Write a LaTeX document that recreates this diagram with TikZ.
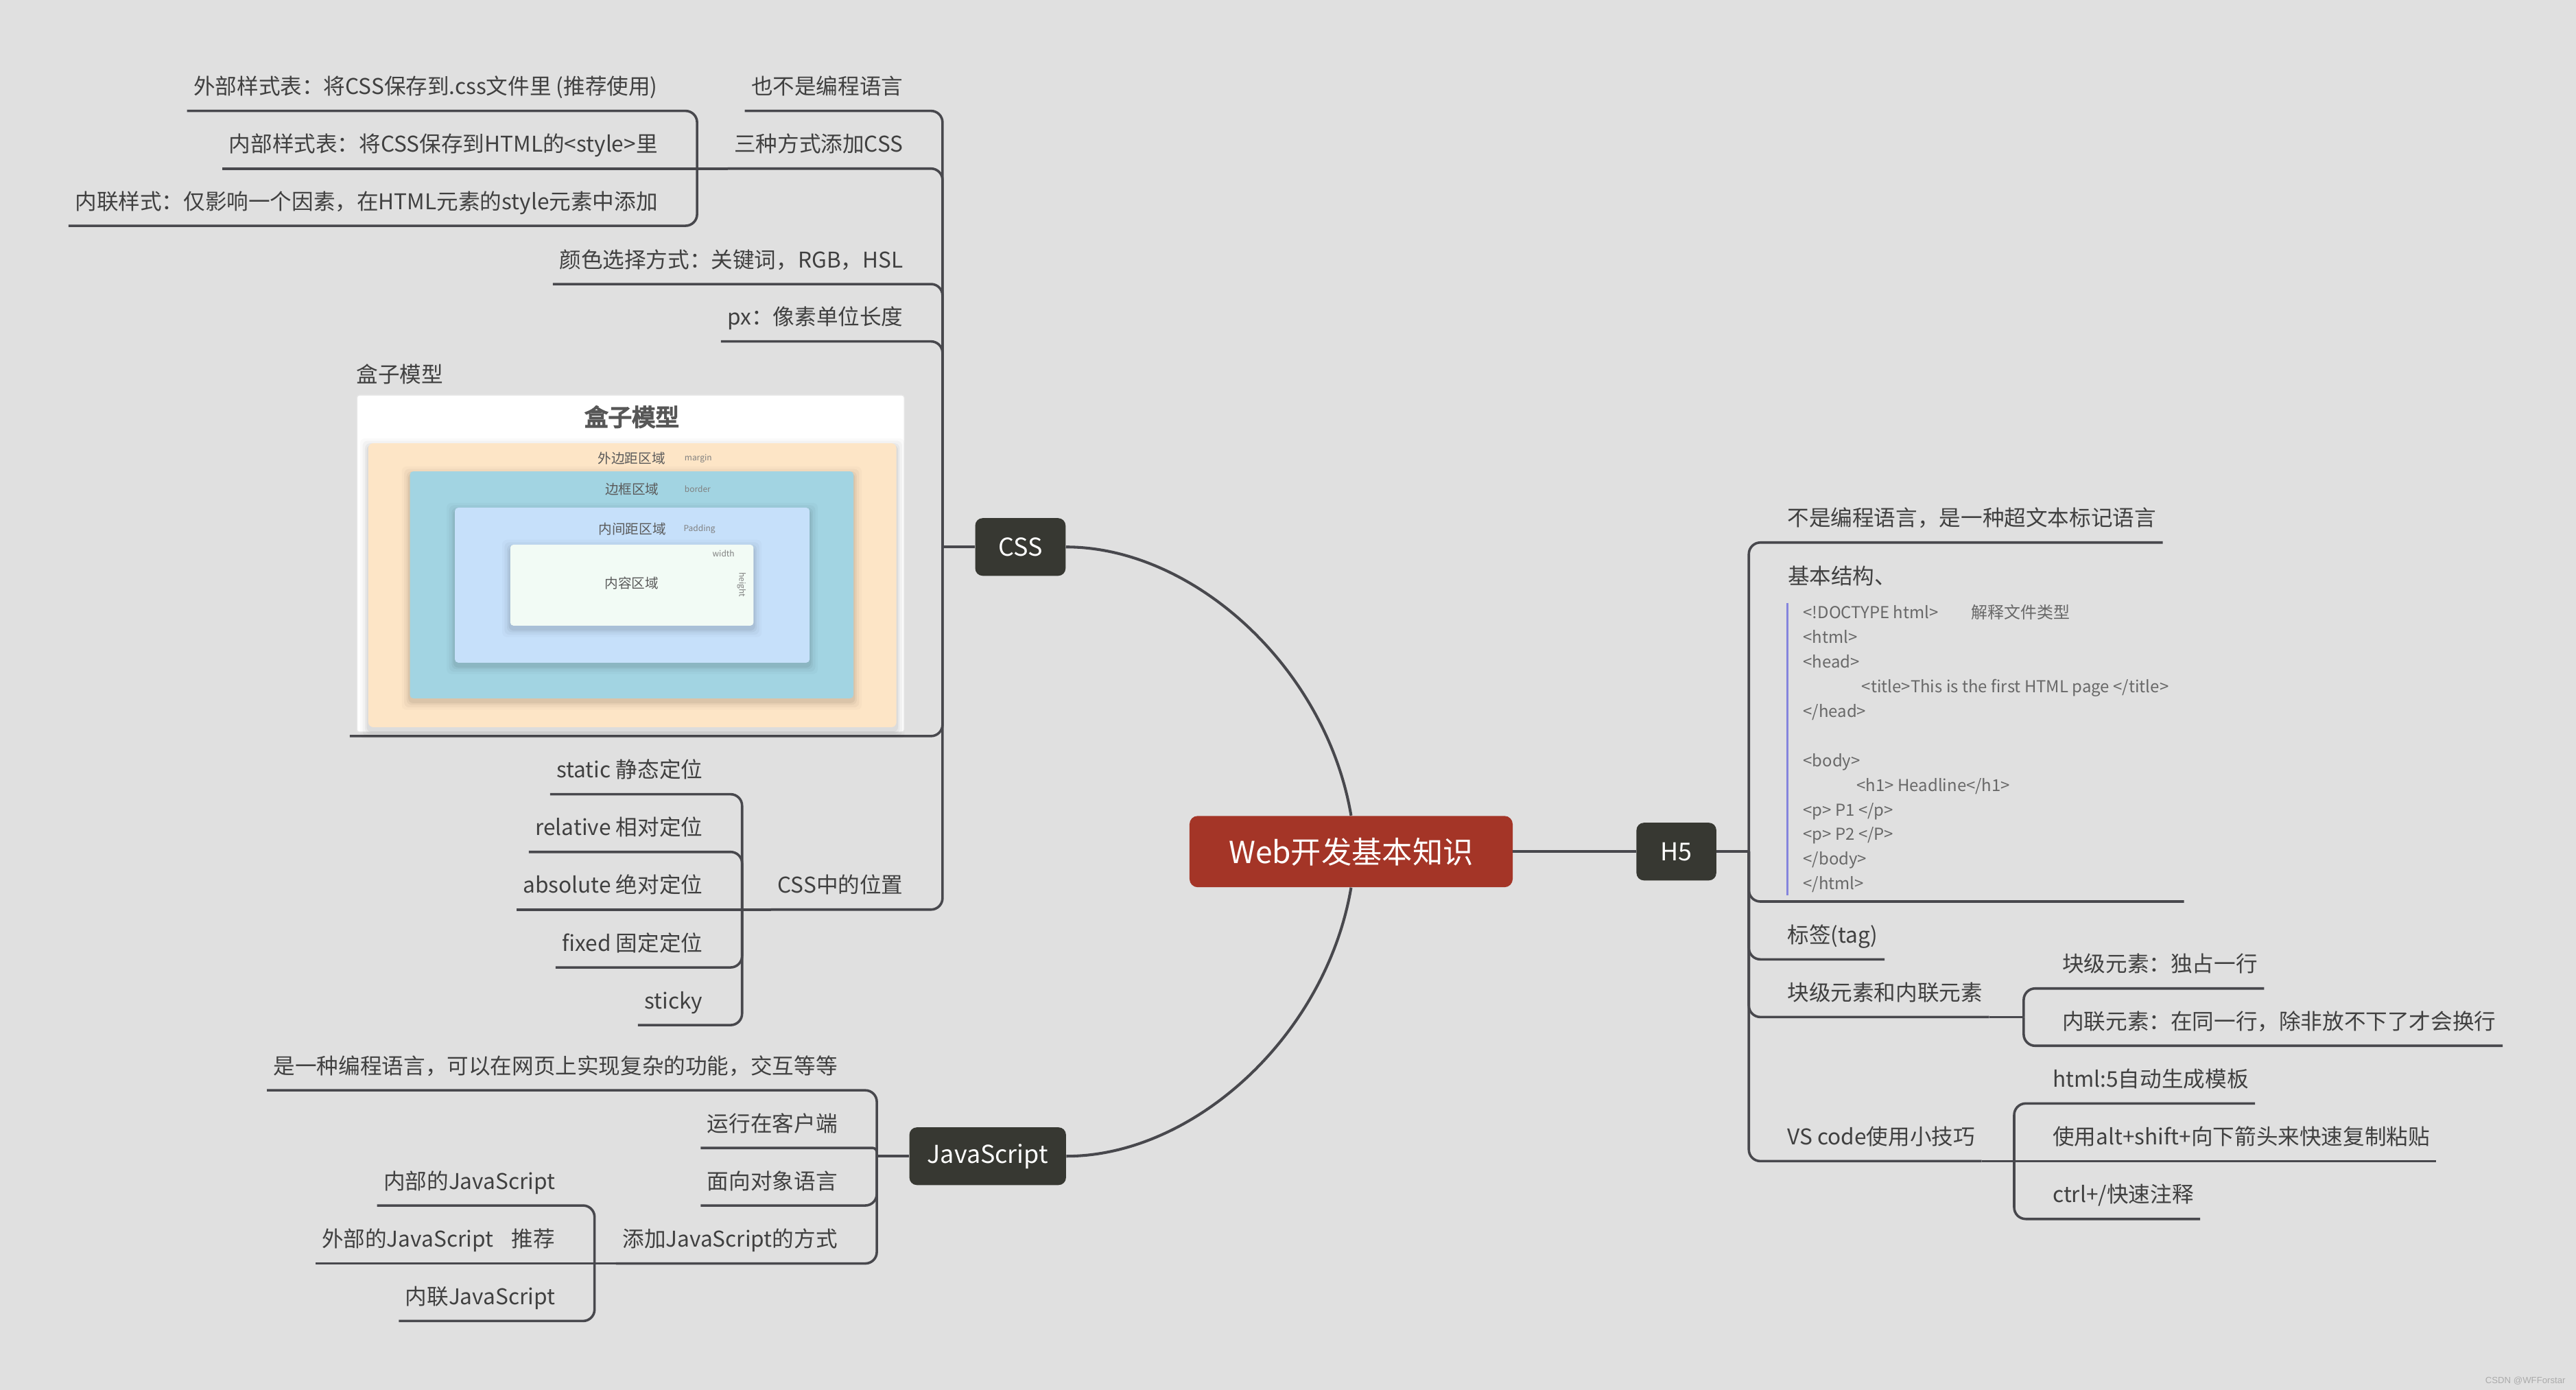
\documentclass[tikz,border=0pt]{standalone}
\usepackage{fontspec}
\setmainfont{Noto Sans CJK SC}
\newfontfamily\boldcjk{Noto Sans CJK SC}[FakeBold=5]
\newfontfamily\wmfont{Liberation Sans}
\usetikzlibrary{calc}
\definecolor{bg}{HTML}{E0E0E0}
\definecolor{ln}{HTML}{48484D}
\definecolor{tx}{HTML}{404040}
\definecolor{rootc}{HTML}{A43527}
\definecolor{mainc}{HTML}{373832}
\definecolor{codec}{HTML}{686868}
\definecolor{barc}{HTML}{8585DD}
\definecolor{peach}{HTML}{FDE5C6}
\definecolor{bordc}{HTML}{A2D4E2}
\definecolor{padc}{HTML}{C6E0FA}
\definecolor{contc}{HTML}{F2FBF5}
\definecolor{boxtx}{HTML}{5A5A5A}
\tikzset{
  br/.style={draw=ln, line width=1.5pt, rounded corners=7pt},
  mainln/.style={draw=ln, line width=1.7pt},
  lt/.style={anchor=base east, font=\fontsize{13.2}{15}\selectfont, text=tx, inner xsep=4pt, inner ysep=6pt, text height=10pt, text depth=4pt, outer sep=0pt},
  rt/.style={lt, anchor=base west},
  topic/.style={fill=mainc, rounded corners=4.5pt, text=white, font=\fontsize{15}{18}\selectfont, inner sep=0pt, minimum height=35.1pt},
  codetx/.style={anchor=base west, font=\fontsize{10}{12}\selectfont, text=codec, inner sep=0pt},
  boxlbl/.style={font=\fontsize{8.2}{10}\selectfont, text=boxtx, inner sep=0pt},
  tinylbl/.style={font=\fontsize{5}{6}\selectfont, text=black!50, inner sep=0pt, anchor=west},
}
\newcommand{\softshadow}[4]{%
  \foreach \e/\o in {5/0.02,3.5/0.03,2/0.04,1/0.05}{%
    \fill[black, opacity=\o, rounded corners=3pt] (#1-\e,#2-\e+2) rectangle (#3+\e,#4+\e+2);}}
\begin{document}
\begin{tikzpicture}[x=1pt,y=-1pt]
\useasboundingbox (0,0) rectangle (1568,846);
\fill[bg] (0,0) rectangle (1568,846);

% ---------- main topics ----------
\node[fill=rootc, rounded corners=5pt, text=white, font=\fontsize{18.5}{22}\selectfont, inner sep=0pt, minimum width=196.7pt, minimum height=43.4pt] (root) at (822.4,518.3) {Web开发基本知识};
\node[topic, minimum width=55pt] (css) at (621.1,332.9) {CSS};
\node[topic, minimum width=95.3pt] (js) at (601.2,703.7) {JavaScript};
\node[topic, minimum width=48.6pt] (h5) at (1020.4,518.3) {H5};

\coordinate (cssJ) at (573.7,332.9);
\coordinate (jsJ) at (533.7,703.7);
\coordinate (h5J) at (1064.5,518.3);

\draw[mainln] (css.east) .. controls +(77.7,0) and +(-15.3,-90) .. (root.north);
\draw[mainln] (root.south) .. controls +(-15.3,90) and +(77.7,0) .. (js.east);
\draw[mainln] (root.east) -- (h5.west);
\draw[br] (h5.east) -- (h5J);
\draw[br] (css.west) -- (cssJ);
\draw[br] (js.west) -- (jsJ);

% ---------- CSS branch ----------
\node[lt] (c1) at (553.7,57.5) {也不是编程语言};
\node[lt] (c2) at (553.7,92.6) {三种方式添加CSS};
\coordinate (j2) at (424.3,102.6);
\node[lt] (c21) at (404.3,57.5) {外部样式表：将CSS保存到.css文件里 (推荐使用)};
\node[lt] (c22) at (404.3,92.6) {内部样式表：将CSS保存到HTML的<style>里};
\node[lt] (c23) at (404.3,127.4) {内联样式：仅影响一个因素，在HTML元素的style元素中添加};
\node[lt] (c3) at (553.7,162.9) {颜色选择方式：关键词，RGB，HSL};
\node[lt] (c4) at (553.7,197.8) {px：像素单位长度};
\node[anchor=south west, inner sep=0pt, minimum width=340.8pt, minimum height=230pt] (c5) at (212.9,448) {};
\node[anchor=base west, font=\fontsize{13.2}{15}\selectfont, text=tx, inner sep=0pt] (c5lbl) at (216.7,233) {盒子模型};
\node[lt] (c6) at (553.7,543.6) {CSS中的位置};
\coordinate (j6) at (451.7,553.6);
\node[lt] (c61) at (431.7,473.4) {static 静态定位};
\node[lt] (c62) at (431.7,508.5) {relative 相对定位};
\node[lt] (c63) at (431.7,543.6) {absolute 绝对定位};
\node[lt] (c64) at (431.7,578.8) {fixed 固定定位};
\node[lt] (c65) at (431.7,613.9) {sticky};

\draw[br] (cssJ) |- (c1.south west);
\draw[br] (cssJ) |- (c2.south west);
\draw[br] (cssJ) |- (c3.south west);
\draw[br] (cssJ) |- (c4.south west);
\draw[br] (cssJ) |- (c5.south west);
\draw[br] (cssJ) |- (c6.south west);
\draw[br] (c2.south west) -- (j2);
\draw[br] (j2) |- (c21.south west);
\draw[br] (j2) -- (c22.south west);
\draw[br] (j2) |- (c23.south west);
\draw[br] (c6.south west) -- (j6);
\draw[br] (j6) |- (c61.south west);
\draw[br] (j6) |- (c62.south west);
\draw[br] (j6) -- (c63.south west);
\draw[br] (j6) |- (c64.south west);
\draw[br] (j6) |- (c65.south west);

% box model picture
\fill[white, draw=black!10, line width=0.6pt, rounded corners=1.5pt] (217.2,240.5) rectangle (550.5,445.6);
\node[font=\boldcjk\fontsize{14.4}{16}\selectfont, text=black!66, inner sep=0pt] (bmtitle) at (384.6,253.7) {盒子模型};
\softshadow{224.2}{269.8}{545.6}{442.6}
\fill[peach, rounded corners=3pt] (224.2,269.8) rectangle (545.6,442.6);
\node[boxlbl] (mlbl) at (384.5,279) {外边距区域};
\node[tinylbl] (mtag) at (416.5,279) {margin};
\softshadow{249.5}{286.9}{519.5}{425}
\fill[bordc, rounded corners=2pt] (249.5,286.9) rectangle (519.5,425);
\node[boxlbl] (blbl) at (384.7,297.7) {边框区域};
\node[tinylbl] (btag) at (416.5,297.7) {border};
\softshadow{276.9}{309}{492.8}{403.3}
\fill[padc, rounded corners=2pt] (276.9,309) rectangle (492.8,403.3);
\node[boxlbl] (plbl) at (384.9,322) {内间距区域};
\node[tinylbl] (ptag) at (416,322) {Padding};
\softshadow{310.6}{331.5}{458.7}{380.8}
\fill[contc, rounded corners=2pt] (310.6,331.5) rectangle (458.7,380.8);
\node[boxlbl] (clbl) at (384.5,355) {内容区域};
\node[tinylbl] (wtag) at (433.5,337) {width};
\node[tinylbl, anchor=center, rotate=-90] (htag) at (451.4,356) {height};

% ---------- JavaScript branch ----------
\node[lt] (s1) at (513.7,653.6) {是一种编程语言，可以在网页上实现复杂的功能，交互等等};
\node[lt] (s2) at (513.7,688.7) {运行在客户端};
\node[lt] (s3) at (513.7,723.7) {面向对象语言};
\node[lt] (s4) at (513.7,759) {添加JavaScript的方式};
\coordinate (j4) at (361.9,769);
\node[lt] (s41) at (341.9,723.7) {内部的JavaScript};
\node[lt] (s42) at (341.9,759) {外部的JavaScript\hspace{0.85em}推荐};
\node[lt] (s43) at (341.9,794) {内联JavaScript};

\draw[br] (jsJ) |- (s1.south west);
\draw[br, rounded corners=2.5pt] (jsJ) |- (s2.south west);
\draw[br] (jsJ) |- (s3.south west);
\draw[br] (jsJ) |- (s4.south west);
\draw[br] (s4.south west) -- (j4);
\draw[br] (j4) |- (s41.south west);
\draw[br] (j4) -- (s42.south west);
\draw[br] (j4) |- (s43.south west);

% ---------- H5 branch ----------
\node[rt] (h1) at (1084,320.2) {不是编程语言，是一种超文本标记语言};
\node[anchor=south west, inner sep=0pt, minimum width=245pt, minimum height=215pt] (h2) at (1084,548.7) {};
\node[anchor=base west, font=\fontsize{13.2}{15}\selectfont, text=tx, inner sep=0pt] (h2lbl) at (1088,355.5) {基本结构、};
\node[rt] (h3) at (1084,573.9) {标签(tag)};
\node[rt] (h4) at (1084,609) {块级元素和内联元素};
\coordinate (hj4) at (1231.8,619);
\node[rt] (h41) at (1251.3,591.6) {块级元素：独占一行};
\node[rt] (h42) at (1251.3,626.5) {内联元素：在同一行，除非放不下了才会换行};
\node[rt] (h5n) at (1084,696.7) {VS code使用小技巧};
\coordinate (hj5) at (1226,706.7);
\node[rt] (h51) at (1245.5,661.6) {html:5自动生成模板};
\node[rt] (h52) at (1245.5,696.7) {使用alt+shift+向下箭头来快速复制粘贴};
\node[rt] (h53) at (1245.5,731.9) {ctrl+/快速注释};

\draw[br] (h5J) |- (h1.south east);
\draw[br] (h5J) |- (h2.south east);
\draw[br] (h5J) |- (h3.south east);
\draw[br] (h5J) |- (h4.south east);
\draw[br] (h5J) |- (h5n.south east);
\draw[br] (h4.south east) -- (hj4);
\draw[br] (hj4) |- (h41.south east);
\draw[br] (hj4) |- (h42.south east);
\draw[br] (h5n.south east) -- (hj5);
\draw[br] (hj5) |- (h51.south east);
\draw[br] (hj5) -- (h52.south east);
\draw[br] (hj5) |- (h53.south east);

% code block
\draw[barc, line width=1.2pt] (1088,367) -- (1088,545);
\node[codetx] (k1) at (1097.4,376.5) {<!DOCTYPE html>\hspace{20pt}解释文件类型};
\node[codetx] (k2) at (1097.4,391.5) {<html>};
\node[codetx] (k3) at (1097.4,406.5) {<head>};
\node[codetx] (k4) at (1133,421.5) {<title>This is the first HTML page </title>};
\node[codetx] (k5) at (1097.4,436.5) {</head>};
\node[codetx] (k6) at (1097.4,466.5) {<body>};
\node[codetx] (k7) at (1130,481.5) {<h1> Headline</h1>};
\node[codetx] (k8) at (1097.4,496.5) {<p> P1 </p>};
\node[codetx] (k9) at (1097.4,511.5) {<p> P2 </P>};
\node[codetx] (k10) at (1097.4,526.5) {</body>};
\node[codetx] (k11) at (1097.4,541.5) {</html>};

% watermark
\node[font=\wmfont\fontsize{5.5}{6}\selectfont, text=black!33, anchor=east, inner sep=0pt] (wm) at (1561.7,840.3) {CSDN @WFForstar};
\end{tikzpicture}
\end{document}
